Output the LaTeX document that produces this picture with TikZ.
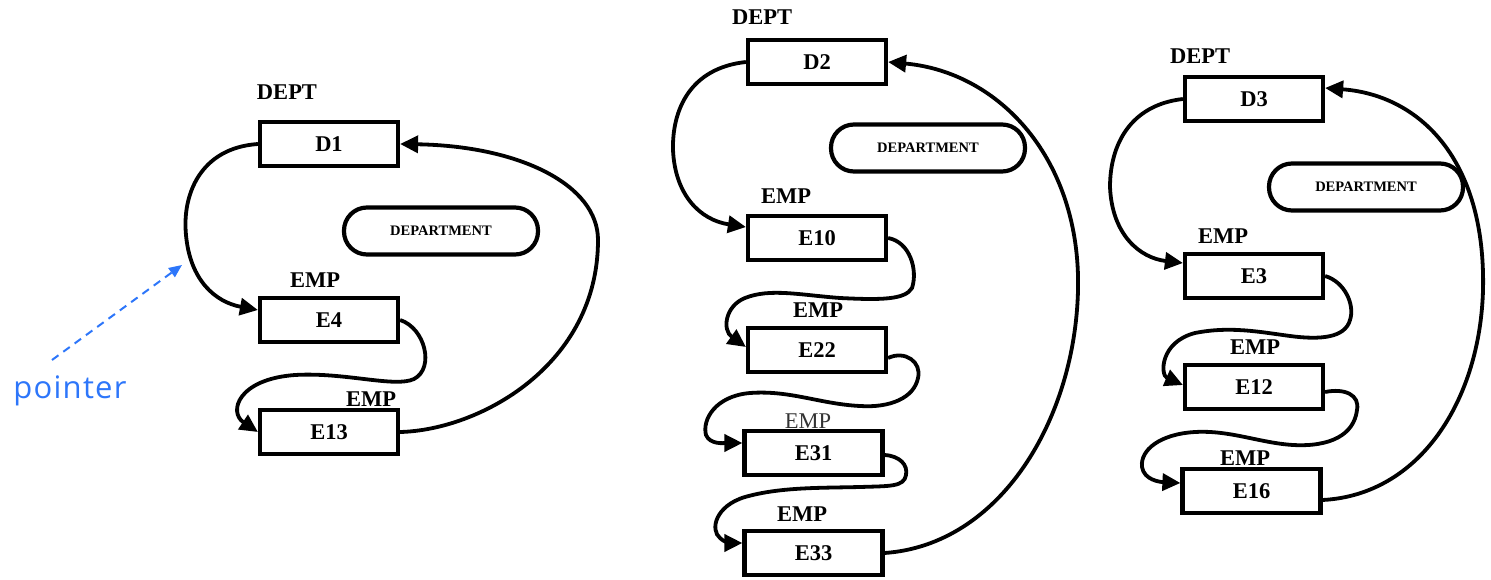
\documentclass[tikz,border=0pt]{standalone}
\usepackage{fontspec}
\setmainfont{Liberation Serif}
\newfontfamily\ptrfont[LetterSpace=4]{Open Sans}
\usetikzlibrary{arrows.meta}
\definecolor{ptrblue}{RGB}{45,118,250}
\begin{document}
\begin{tikzpicture}[x=1pt,y=-1pt,
  recbox/.style={draw, line width=4.2pt, minimum width=138pt, minimum height=44pt,
    inner sep=0pt, font=\fontsize{22.5}{24}\selectfont\bfseries},
  tag/.style={inner sep=0pt, font=\fontsize{22.5}{24}\selectfont\bfseries},
  tagthin/.style={inner sep=0pt, text=black!80, font=\fontsize{22.5}{24}\selectfont},
  oval/.style={draw, line width=4.2pt, minimum width=194pt, minimum height=47pt,
    rounded corners=23pt, inner sep=0pt, font=\fontsize{14.5}{16}\selectfont\bfseries},
  link/.style={line width=3.8pt, -{Triangle[length=18pt,width=17pt]}},
]
\useasboundingbox (0,0) rectangle (1491,580);

% ---------------- first department ring ----------------
\node[recbox] (d1) at (329,144) {D1};
\node[oval] (o1) at (441,231) {DEPARTMENT};
\node[recbox] (e4) at (329,320) {E4};
\node[recbox] (e13) at (329,432) {E13};
\node[tag] (t1a) at (287,92) {DEPT};
\node[tag] (t1b) at (315,280) {EMP};
\node[tag] (t1c) at (371,399) {EMP};

\draw[link] (d1.west) .. controls (200,148) and (182,195) .. (186,235)
  .. controls (190,280) and (215,302) .. ([yshift=10pt]e4.west);
\draw[link] (e4.east) .. controls (425,328) and (435,368) .. (414,379)
  .. controls (395,388) and (345,372) .. (295,375)
  .. controls (238,379) and (228,412) .. (e13.west);
\draw[link] (e13.east) .. controls (480,430) and (598,365) .. (598,240)
  .. controls (598,185) and (520,146) .. (d1.east);

% pointer annotation
\node[inner sep=0pt, text=ptrblue, font=\ptrfont\fontsize{31}{33}\selectfont] (ptr) at (70,391) {pointer};
\coordinate (ptail) at (52,360);
\coordinate (phead) at (182,265);
\draw[ptrblue, line width=2pt, dash pattern=on 8pt off 6pt,
  -{Triangle[length=13pt,width=11pt]}] (ptail) -- (phead);

% ---------------- second department ring ----------------
\node[recbox] (d2) at (817,62) {D2};
\node[oval] (o2) at (928,148) {DEPARTMENT};
\node[recbox] (e10) at (817,238) {E10};
\node[recbox] (e22) at (817,350) {E22};
\node[recbox] (e31) at (813.5,453) {E31};
\node[recbox] (e33) at (813.5,553) {E33};
\node[tag] (t2a) at (762,17) {DEPT};
\node[tag] (t2b) at (786,196) {EMP};
\node[tag] (t2c) at (818,310) {EMP};
\node[tagthin] (t2d) at (808,421) {EMP};
\node[tag] (t2e) at (802,514) {EMP};

\draw[link] (d2.west) .. controls (690,68) and (672,110) .. (673,150)
  .. controls (675,195) and (700,220) .. ([yshift=11pt]e10.west);
\draw[link] (e10.east) .. controls (910,242) and (918,270) .. (912,288)
  .. controls (905,300) and (880,300) .. (840,298)
  .. controls (800,295) and (770,288) .. (745,298)
  .. controls (725,306) and (722,330) .. ([yshift=3pt]e22.west);
\draw[link] ([yshift=-8pt]e22.east) .. controls (905,350) and (922,362) .. (918,378)
  .. controls (914,398) and (890,408) .. (860,406)
  .. controls (820,404) and (790,390) .. (750,393)
  .. controls (715,396) and (702,420) .. (706,435)
  .. controls (710,445) and (725,443) .. ([yshift=10pt]e31.west);
\draw[link] ([yshift=-2pt]e31.east) .. controls (900,456) and (908,465) .. (906,475)
  .. controls (904,487) and (890,486) .. (860,487)
  .. controls (820,488) and (780,487) .. (745,497)
  .. controls (715,506) and (710,530) .. (720,538)
  .. controls (725,543) and (732,543) .. ([yshift=10pt]e33.west);
\draw[link] (e33.east) .. controls (1000,545) and (1075,420) .. (1078,290)
  .. controls (1081,160) and (1000,72) .. (d2.east);

% ---------------- third department ring ----------------
\node[recbox] (d3) at (1254,99) {D3};
\node[oval] (o3) at (1366,187) {DEPARTMENT};
\node[recbox] (e3) at (1254,276) {E3};
\node[recbox] (e12) at (1254,387) {E12};
\node[recbox] (e16) at (1251.5,491) {E16};
\node[tag] (t3a) at (1200,56) {DEPT};
\node[tag] (t3b) at (1223,236) {EMP};
\node[tag] (t3c) at (1255,347) {EMP};
\node[tag] (t3d) at (1245,458) {EMP};

\draw[link] (d3.west) .. controls (1130,105) and (1110,145) .. (1110,187)
  .. controls (1112,235) and (1140,258) .. ([yshift=13pt]e3.west);
\draw[link] (e3.east) .. controls (1345,282) and (1355,305) .. (1350,320)
  .. controls (1345,338) and (1320,340) .. (1290,336)
  .. controls (1260,332) and (1230,326) .. (1195,333)
  .. controls (1160,342) and (1160,375) .. ([yshift=2pt]e12.west);
\draw[link] ([yshift=-5pt]e12.east) .. controls (1345,388) and (1360,395) .. (1357,410)
  .. controls (1354,435) and (1330,447) .. (1293,445)
  .. controls (1260,443) and (1230,430) .. (1195,432)
  .. controls (1160,434) and (1140,450) .. (1142,467)
  .. controls (1144,480) and (1160,482) .. ([yshift=8pt]e16.west);
\draw[link] ([yshift=-9pt]e16.east) .. controls (1420,495) and (1480,400) .. (1483,290)
  .. controls (1486,160) and (1420,95) .. ([yshift=11pt]d3.east);
\end{tikzpicture}
\end{document}
